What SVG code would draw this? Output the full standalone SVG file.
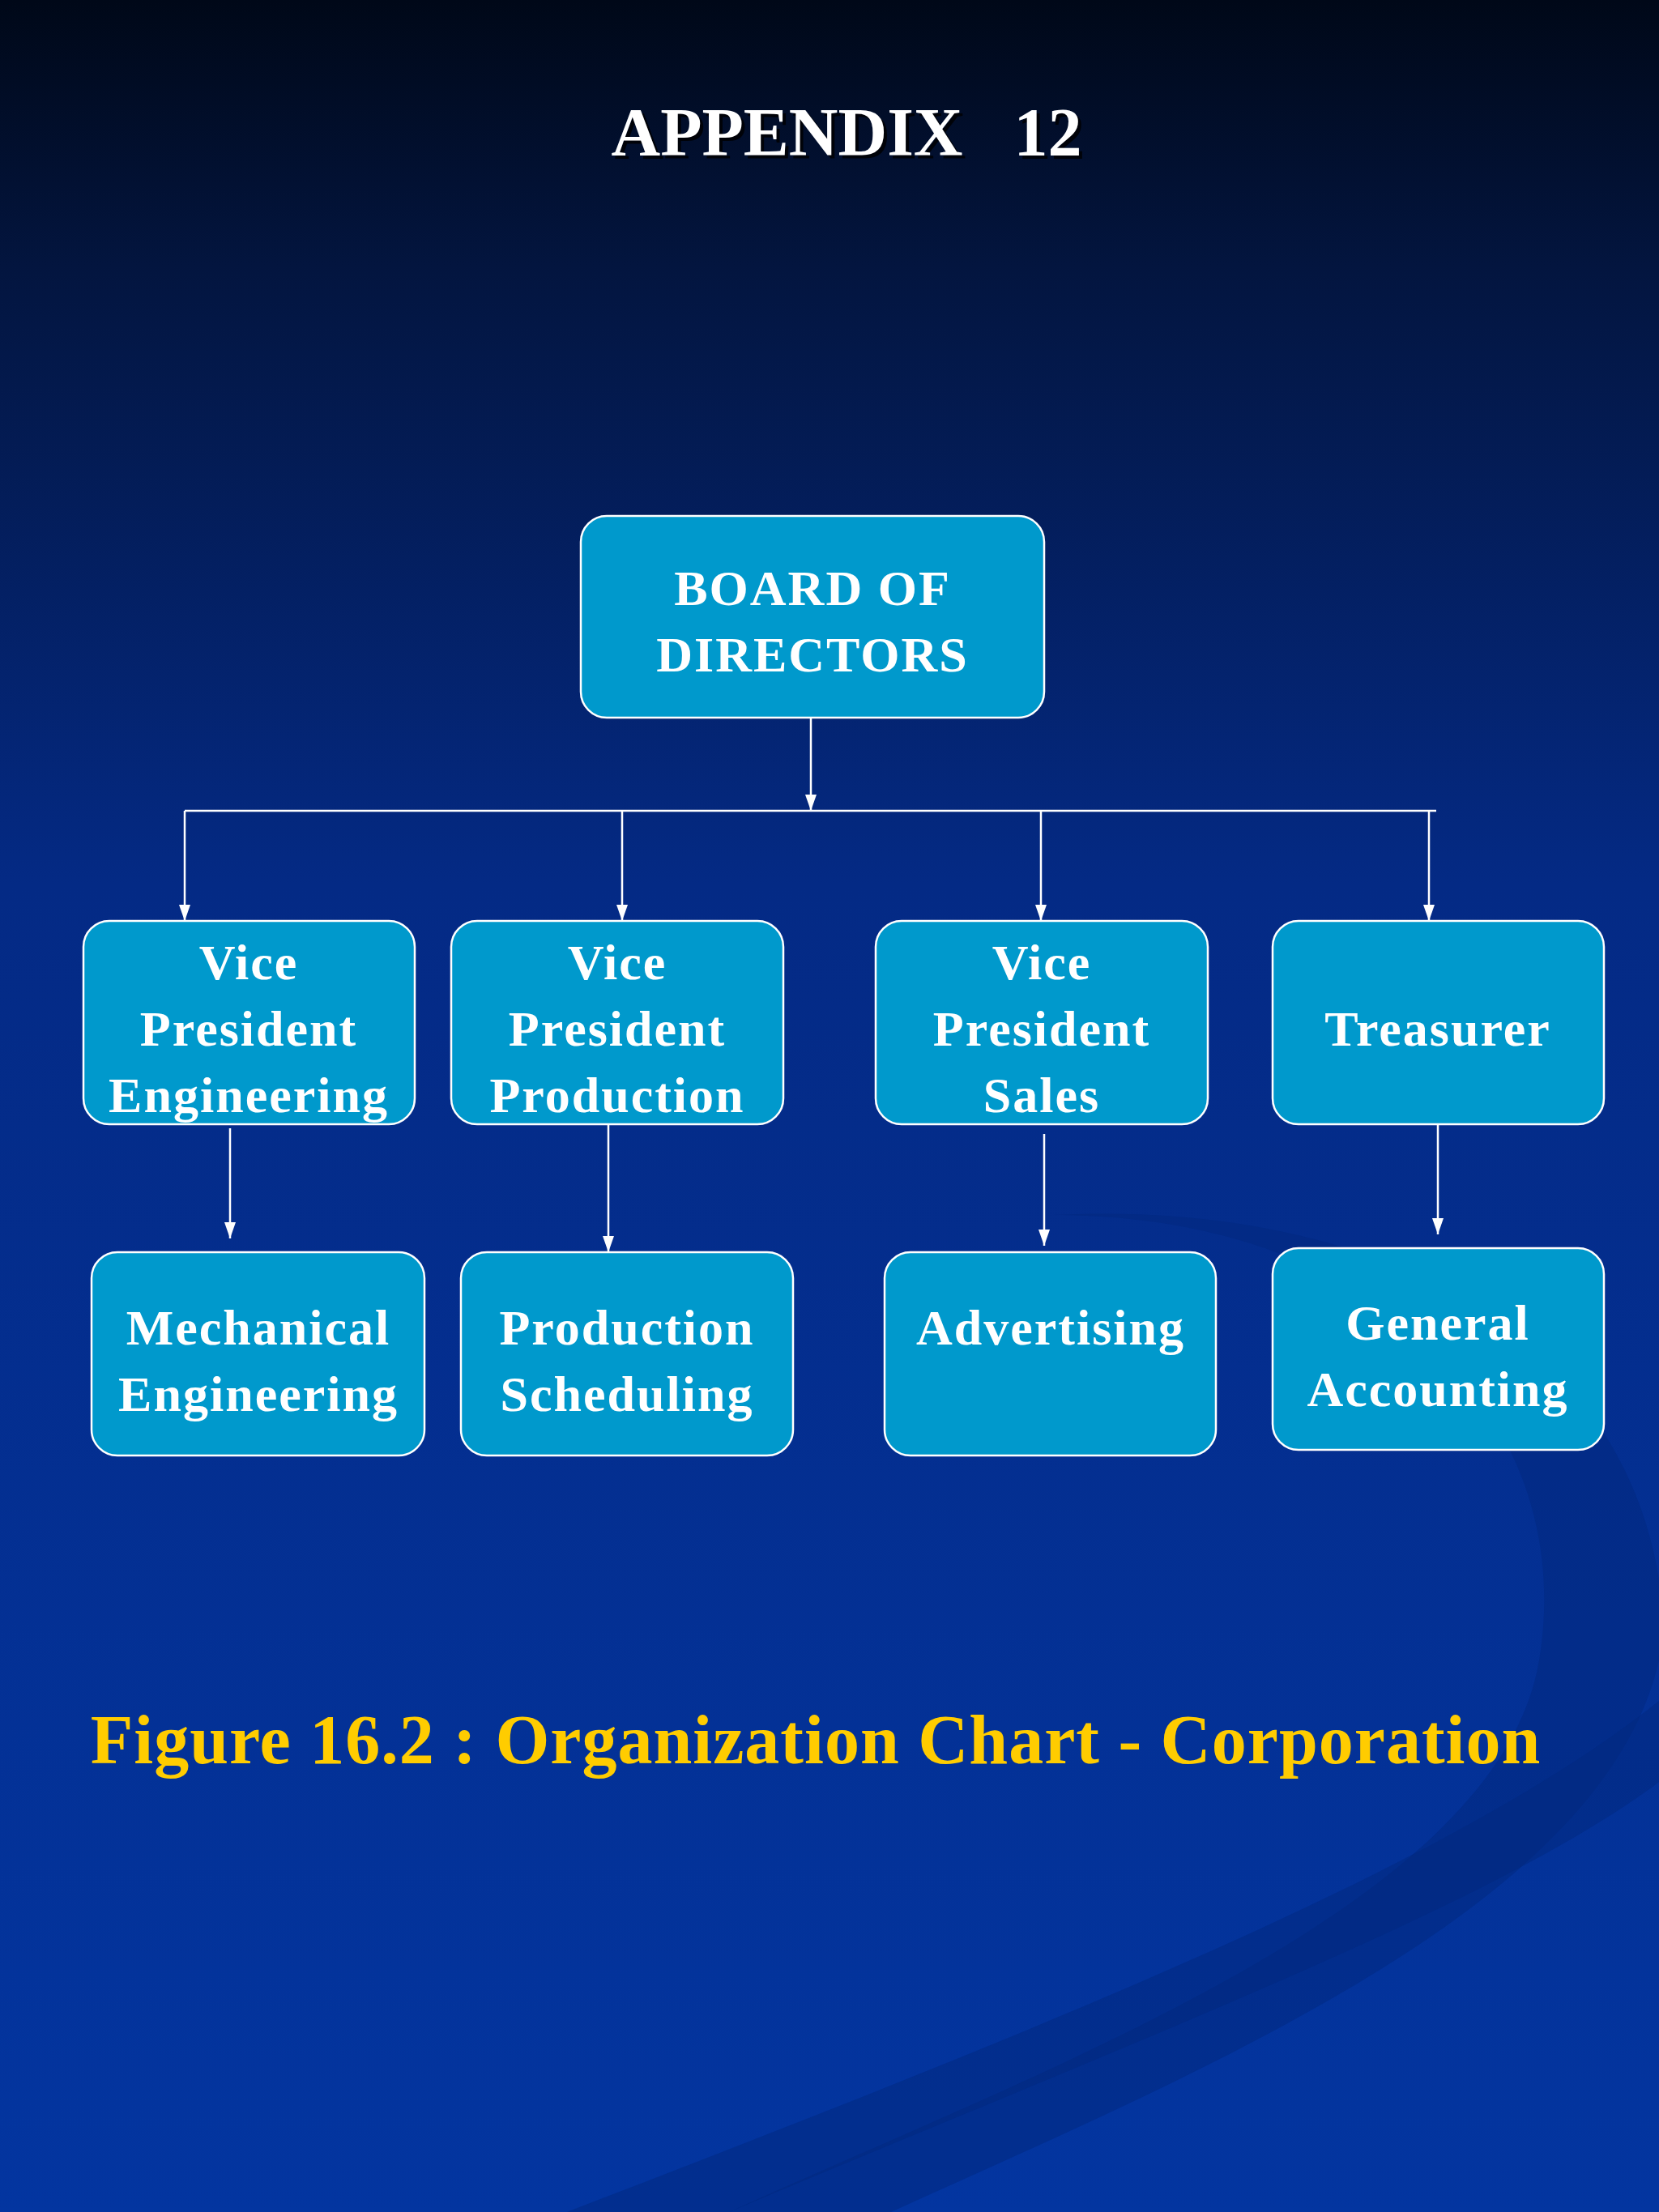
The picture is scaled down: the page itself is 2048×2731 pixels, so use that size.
<svg xmlns="http://www.w3.org/2000/svg" width="2048" height="2731" viewBox="0 0 2048 2731">
<defs>
<linearGradient id="bg" x1="0" y1="0" x2="0" y2="1">
<stop offset="0" stop-color="#000818"/>
<stop offset="0.12" stop-color="#03153f"/>
<stop offset="0.4" stop-color="#042a85"/>
<stop offset="1" stop-color="#0335a0"/>
</linearGradient>
<marker id="ah" viewBox="0 0 10 10" refX="10" refY="5" markerWidth="20" markerHeight="20" markerUnits="userSpaceOnUse" orient="auto">
<path d="M0,1.5 L10,5 L0,8.5 z" fill="#fff"/>
</marker>
<style>
.box{fill:#0099cc;stroke:#fff;stroke-width:2.5}
.t{font-family:"Liberation Serif",serif;font-weight:bold;font-size:62px;letter-spacing:2px;fill:#fff;text-anchor:middle}
.c{stroke:#fff;stroke-width:2.5;fill:none}
.a{stroke:#fff;stroke-width:2.5;fill:none;marker-end:url(#ah)}
.ttl{font-family:"Liberation Serif",serif;font-weight:bold;font-size:84px;text-anchor:middle}
</style>
</defs>
<rect width="2048" height="2731" fill="url(#bg)"/>
<path d="M1300,1500 C1700,1500 1950,1750 1900,2050 C1850,2350 1300,2550 900,2731 L1100,2731 C1500,2550 1980,2350 2048,2050 L2048,1950 C2000,1650 1700,1480 1300,1500 z" fill="#02287e" opacity="0.5"/>
<path d="M2048,2100 C1800,2300 1300,2500 700,2731 L900,2731 C1400,2520 1850,2350 2048,2200 z" fill="#02287e" opacity="0.5"/>
<text class="ttl" x="1049" y="196" fill="#000" opacity="0.8" xml:space="preserve">APPENDIX   12</text>
<text class="ttl" x="1045" y="192" fill="#fff" xml:space="preserve">APPENDIX   12</text>
<g id="connectors">
<line class="a" x1="1001" y1="886" x2="1001" y2="1001"/>
<line class="c" x1="228" y1="1001" x2="1773" y2="1001"/>
<line class="a" x1="228" y1="1001" x2="228" y2="1137"/>
<line class="a" x1="768" y1="1001" x2="768" y2="1137"/>
<line class="a" x1="1285" y1="1001" x2="1285" y2="1137"/>
<line class="a" x1="1764" y1="1001" x2="1764" y2="1137"/>
<line class="a" x1="284" y1="1393" x2="284" y2="1529"/>
<line class="a" x1="751" y1="1388" x2="751" y2="1546"/>
<line class="a" x1="1289" y1="1400" x2="1289" y2="1538"/>
<line class="a" x1="1775" y1="1388" x2="1775" y2="1524"/>
</g>
<g id="board"><rect class="box" x="717" y="637" width="572" height="249" rx="32"/><text class="t" x="1003" y="747">BOARD OF</text><text class="t" x="1003" y="829">DIRECTORS</text></g>
<g id="vpe"><rect class="box" x="103" y="1137" width="409" height="251" rx="32"/><text class="t" x="307" y="1209">Vice</text><text class="t" x="307" y="1291">President</text><text class="t" x="307" y="1373">Engineering</text></g>
<g id="vpp"><rect class="box" x="557" y="1137" width="410" height="251" rx="32"/><text class="t" x="762" y="1209">Vice</text><text class="t" x="762" y="1291">President</text><text class="t" x="762" y="1373">Production</text></g>
<g id="vps"><rect class="box" x="1081" y="1137" width="410" height="251" rx="32"/><text class="t" x="1286" y="1209">Vice</text><text class="t" x="1286" y="1291">President</text><text class="t" x="1286" y="1373">Sales</text></g>
<g id="treasurer"><rect class="box" x="1571" y="1137" width="409" height="251" rx="32"/><text class="t" x="1775" y="1291">Treasurer</text></g>
<g id="mech"><rect class="box" x="113" y="1546" width="411" height="251" rx="32"/><text class="t" x="319" y="1660">Mechanical</text><text class="t" x="319" y="1742">Engineering</text></g>
<g id="sched"><rect class="box" x="569" y="1546" width="410" height="251" rx="32"/><text class="t" x="774" y="1660">Production</text><text class="t" x="774" y="1742">Scheduling</text></g>
<g id="adv"><rect class="box" x="1092" y="1546" width="409" height="251" rx="32"/><text class="t" x="1297" y="1660">Advertising</text></g>
<g id="acct"><rect class="box" x="1571" y="1541" width="409" height="249" rx="32"/><text class="t" x="1775" y="1654">General</text><text class="t" x="1775" y="1736">Accounting</text></g>
<text x="1007" y="2177" font-family="Liberation Serif,serif" font-weight="bold" font-size="86" letter-spacing="1" fill="#ffcc00" text-anchor="middle">Figure 16.2 : Organization Chart - Corporation</text>
</svg>
